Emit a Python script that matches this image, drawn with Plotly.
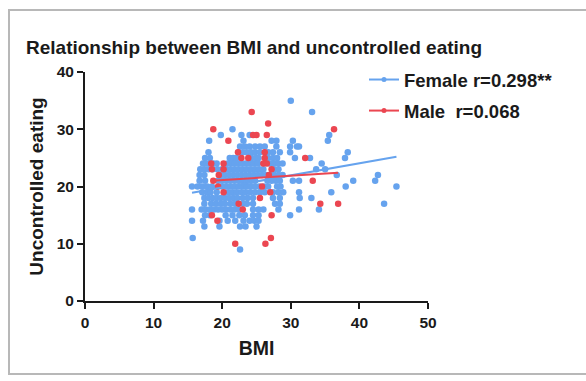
import plotly.graph_objects as go

# ---- data: uncontrolled eating score (rows) vs BMI ----
female_rows = {
    35: [30.0],
    33: [33.1],
    30: [21.5],
    29: [19.8, 22.8, 24.0, 35.6],
    28: [18.1, 23.1, 27.2, 27.9, 30.3, 35.4],
    27: [22.6, 23.3, 24.0, 24.8, 25.5, 26.2, 27.9, 29.9, 30.9, 31.2],
    26: [18.0, 22.4, 23.0, 23.6, 24.2, 24.8, 25.5, 26.7, 27.4, 28.4, 29.9, 38.3],
    25: [17.5, 18.2, 21.1, 21.6, 22.1, 24.3, 24.9, 25.3, 26.7, 27.4, 28.0, 30.6, 32.8, 37.9],
    24: [17.2, 17.7, 18.7, 19.2, 20.8, 21.3, 21.8, 22.3, 22.8, 23.4, 24.0, 24.6, 25.2,
         26.9, 27.5, 28.2, 28.8, 34.5],
    23: [16.8, 17.4, 18.0, 18.6, 19.3, 20.0, 20.6, 21.2, 21.8, 22.4, 23.0, 23.6, 24.2,
         24.8, 25.4, 26.0, 27.6, 28.2, 33.7, 35.0],
    22: [16.7, 17.4, 19.8, 20.4, 21.0, 21.6, 22.2, 22.8, 23.4, 24.0, 24.6, 25.2, 25.8,
         26.4, 27.0, 27.6, 28.2, 28.8, 36.7, 42.7],
    21: [16.7, 17.5, 19.4, 20.0, 20.6, 21.2, 21.8, 22.4, 23.0, 23.6, 24.2, 24.8, 26.6,
         27.2, 27.8, 28.4, 30.3, 31.2, 39.1, 42.3],
    20: [15.6, 16.4, 17.1, 17.8, 18.5, 20.0, 20.6, 21.2, 21.8, 22.4, 23.0, 23.6, 24.2,
         24.8, 25.4, 26.1, 26.7, 28.0, 28.5, 38.0, 45.4],
    19: [17.1, 17.8, 18.3, 19.2, 20.9, 21.5, 22.1, 22.8, 23.4, 24.1, 24.8, 25.5, 26.2,
         27.4, 28.2, 28.9, 31.2, 35.9],
    18: [17.4, 18.0, 18.6, 19.2, 19.8, 20.4, 21.0, 21.6, 22.2, 23.0, 23.7, 24.5, 27.4,
         28.4, 31.3, 33.0],
    17: [17.4, 18.4, 19.1, 19.8, 20.4, 21.2, 21.9, 23.0, 23.6, 24.5, 27.7, 28.4, 43.6],
    16: [15.6, 17.0, 17.6, 18.2, 18.8, 19.4, 20.0, 20.6, 21.2, 21.8, 22.4, 24.5, 25.3,
         26.0, 28.2, 31.2, 34.1],
    15: [17.5, 18.2, 20.5, 21.5, 22.5, 23.3, 24.5, 25.3, 29.9],
    14: [15.6, 17.2, 19.6, 20.8, 21.9, 23.1, 24.0, 24.7, 25.3],
    13: [17.4, 19.6, 22.6, 23.4, 25.0],
    11: [15.7],
    9: [22.6],
}

male_rows = {
    33: [24.3],
    31: [26.7],
    30: [18.7, 36.3],
    29: [24.5, 25.0, 26.5],
    28: [20.9],
    26: [22.3, 26.2],
    25: [22.8, 23.8, 26.2, 32.1],
    24: [18.4, 20.2, 26.0, 26.5],
    23: [18.5, 20.2, 27.2],
    22: [19.5, 26.8],
    21: [18.7, 33.2],
    20: [19.4, 25.8],
    19: [20.2, 27.0],
    18: [25.5],
    17: [22.4, 34.3, 36.9],
    16: [23.0],
    15: [18.5, 27.2],
    14: [19.3],
    11: [27.1],
    10: [21.9, 26.3],
}

# fitted regression lines (BMI range, predicted score)
female_fit_x = [15.6, 45.4]
female_fit_y = [18.9, 25.2]
male_fit_x = [18.4, 36.9]
male_fit_y = [21.0, 22.4]

female_label = "Female r=0.298**"
male_label = "Male  r=0.068"

x_ticks = [0, 10, 20, 30, 40, 50]
y_ticks = [0, 10, 20, 30, 40]

BLUE = "#66a3ee"
RED = "#eb4651"
FONT = "Arial, Liberation Sans, sans-serif"
INK = "#1a1a1a"


def flatten(rows):
    xs, ys = [], []
    for score, bmis in rows.items():
        for b in bmis:
            xs.append(b)
            ys.append(score)
    return xs, ys


fx, fy = flatten(female_rows)
mx, my = flatten(male_rows)

fig = go.Figure()

fig.add_trace(go.Scatter(x=fx, y=fy, mode="markers", showlegend=False,
                         marker=dict(color=BLUE, size=6.5, line=dict(width=0))))
fig.add_trace(go.Scatter(x=mx, y=my, mode="markers", showlegend=False,
                         marker=dict(color=RED, size=6.5, line=dict(width=0))))
fig.add_trace(go.Scatter(x=female_fit_x, y=female_fit_y, mode="lines", showlegend=False,
                         line=dict(color=BLUE, width=2)))
fig.add_trace(go.Scatter(x=male_fit_x, y=male_fit_y, mode="lines", showlegend=False,
                         line=dict(color=RED, width=2)))

# legend entries: line with a dot
fig.add_trace(go.Scatter(x=[None], y=[None], mode="lines+markers", name=female_label,
                         legendgroup="f", line=dict(color=BLUE, width=2),
                         marker=dict(color=BLUE, size=5)))
fig.add_trace(go.Scatter(x=[None], y=[None], mode="lines+markers", name=male_label,
                         legendgroup="m", line=dict(color=RED, width=2),
                         marker=dict(color=RED, size=5)))

# plot area in pixels
L, R, T, B = 85, 428, 72, 301
W, H = 586, 381


def px_x(p):
    return (p - L) / (R - L)


def px_y(p):
    return (B - p) / (B - T)


fig.update_layout(
    width=W, height=H,
    margin=dict(l=L, r=W - R, t=T, b=H - B),
    paper_bgcolor="white", plot_bgcolor="white",
    font=dict(family=FONT, size=15, color=INK),
    title=dict(text="<b>Relationship between BMI and uncontrolled eating</b>",
               x=26 / W, xanchor="left",
               y=1 - 47 / H, yanchor="middle",
               font=dict(family=FONT, size=19, color=INK)),
    legend=dict(x=px_x(364), y=px_y(61), xanchor="left", yanchor="top",
                bgcolor="rgba(0,0,0,0)", tracegroupgap=4,
                font=dict(family=FONT, size=18.5, color=INK, weight="bold")),
    xaxis=dict(range=[0, 50], tickvals=x_ticks, showgrid=False, zeroline=False,
               showline=True, linecolor=INK, linewidth=2,
               ticks="outside", ticklen=6, tickwidth=2, tickcolor=INK,
               tickfont=dict(family=FONT, size=15.5, weight="bold"),
               title=dict(text="<b>BMI</b>", standoff=12,
                          font=dict(family=FONT, size=19.5))),
    yaxis=dict(range=[0, 40], tickvals=y_ticks, showgrid=False, zeroline=False,
               showline=True, linecolor=INK, linewidth=2,
               ticks="outside", ticklen=6, tickwidth=2, tickcolor=INK,
               tickfont=dict(family=FONT, size=15.5, weight="bold"),
               title=dict(text="<b>Uncontrolled eating</b>", standoff=8,
                          font=dict(family=FONT, size=19))),
)

# card frame around the chart
fig.add_shape(type="rect", xref="paper", yref="paper",
              x0=px_x(9), x1=px_x(600), y0=px_y(374), y1=px_y(10),
              line=dict(color="#b8b8b8", width=2), fillcolor="rgba(0,0,0,0)",
              layer="below")

fig.write_html("out.html")
